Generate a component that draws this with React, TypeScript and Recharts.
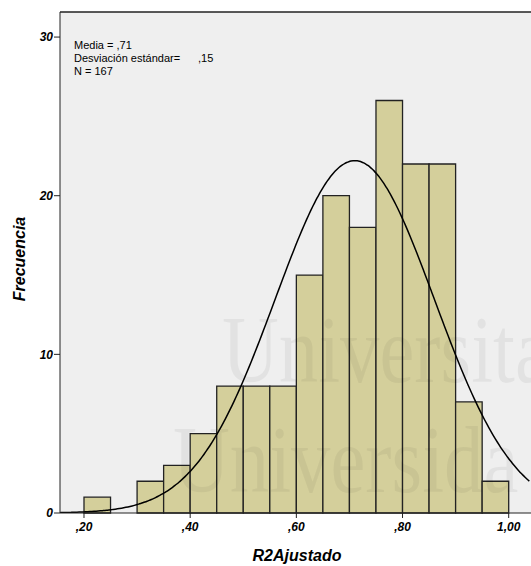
import {
  ComposedChart,
  XAxis,
  YAxis,
  Line,
  ReferenceArea,
  ReferenceLine,
  CartesianGrid,
} from "recharts"

// histogram bins (lower edges) and counts
const binStarts = [0.2, 0.25, 0.3, 0.35, 0.4, 0.45, 0.5, 0.55, 0.6, 0.65, 0.7, 0.75, 0.8, 0.85, 0.9, 0.95]
const counts = [1, 0, 2, 3, 5, 8, 8, 8, 15, 20, 18, 26, 22, 22, 7, 2]
const binWidth = 0.05

const mean = 0.71
const sd = 0.15
const n = 167

const xTicks = [0.2, 0.4, 0.6, 0.8, 1.0]
const yTicks = [0, 10, 20, 30]

const xDomain: [number, number] = [0.1548, 1.042]
const yTop = 31.58

// fitted normal curve, scaled to the histogram (SPSS style)
const curve: { x: number; y: number }[] = []
for (let x = xDomain[0]; x <= xDomain[1] + 1e-9; x += 0.004) {
  const z = (x - mean) / sd
  curve.push({ x, y: ((n * binWidth) / (sd * Math.sqrt(2 * Math.PI))) * Math.exp(-0.5 * z * z) })
}

const fmt = (v: number) => {
  const s = v.toFixed(2).replace(".", ",")
  return s.startsWith("0") ? s.slice(1) : s
}

const font = "'Liberation Sans', Arial, sans-serif"
const tickStyle = { fontSize: 12, fontWeight: "bold", fontStyle: "italic", fill: "#000", fontFamily: font }

export default function App() {
  return (
    <div style={{ position: "absolute", left: 0, top: 0, width: 531, height: 566, background: "#fff", overflow: "hidden" }}>
      <ComposedChart
        width={531}
        height={566}
        data={curve}
        margin={{ top: 12, right: 0, bottom: 0, left: 0 }}
      >
        <CartesianGrid fill="#efefef" horizontal={false} vertical={false} />
        <XAxis
          type="number"
          dataKey="x"
          domain={xDomain}
          ticks={xTicks}
          tickFormatter={fmt}
          allowDataOverflow
          height={53}
          tickSize={5}
          tickMargin={4}
          stroke="#222"
          tick={tickStyle}
        />
        <YAxis
          type="number"
          domain={[0, yTop]}
          ticks={yTicks}
          allowDataOverflow
          width={60}
          tickSize={6}
          tickMargin={1}
          stroke="#222"
          tick={tickStyle}
        />
        {binStarts.map((b, i) =>
          counts[i] > 0 ? (
            <ReferenceArea
              key={b}
              x1={b}
              x2={b + binWidth}
              y1={0}
              y2={counts[i]}
              fill="#d4cf9b"
              fillOpacity={1}
              stroke="#222"
              strokeWidth={1.3}
            />
          ) : null
        )}
        <ReferenceLine y={yTop} stroke="#222" strokeWidth={1.5} />
        <Line
          dataKey="y"
          type="monotone"
          stroke="#000"
          strokeWidth={1.5}
          dot={false}
          isAnimationActive={false}
        />
      </ComposedChart>
      <svg
        width={531}
        height={566}
        style={{ position: "absolute", left: 0, top: 0, pointerEvents: "none" }}
      >
        {/* faint scan watermark */}
        <g fontFamily="'Liberation Serif', serif" fontSize={96} fill="#000" fillOpacity={0.05}>
          <text transform="translate(222,382) scale(0.82,1)">Universita</text>
          <text transform="translate(173,492) scale(0.82,1)">Universida</text>
        </g>
        <g fontFamily={font} fontSize={11} fill="#000">
          <text x={74} y={49}>Media = ,71</text>
          <text x={74} y={62}>Desviación estándar=</text>
          <text x={198} y={62}>,15</text>
          <text x={74} y={75}>N = 167</text>
        </g>
        <text
          x={297}
          y={561}
          textAnchor="middle"
          fontFamily={font}
          fontSize={16}
          fontWeight="bold"
          fontStyle="italic"
        >
          R2Ajustado
        </text>
        <text
          transform="translate(25,259) rotate(-90)"
          textAnchor="middle"
          fontFamily={font}
          fontSize={16}
          fontWeight="bold"
          fontStyle="italic"
        >
          Frecuencia
        </text>
      </svg>
    </div>
  )
}
